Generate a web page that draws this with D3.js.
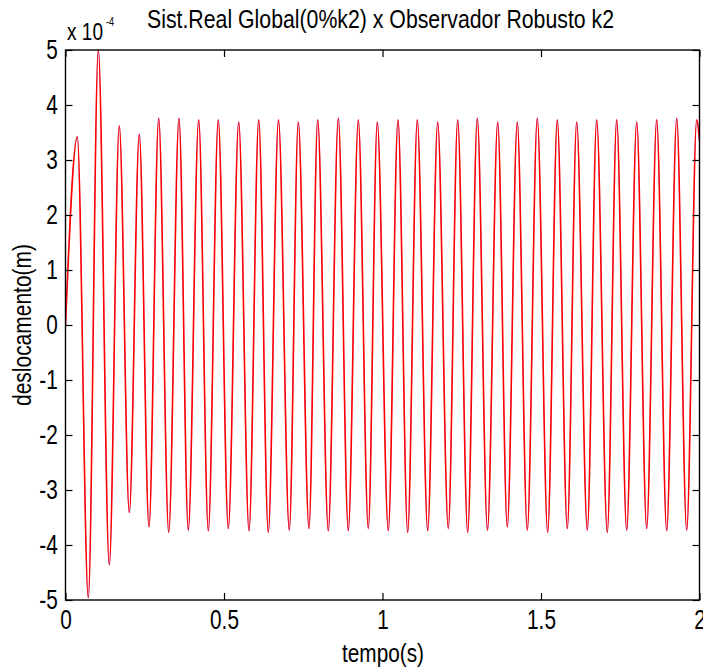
<!DOCTYPE html>
<html>
<head>
<meta charset="utf-8">
<script src="https://cdn.jsdelivr.net/npm/d3@7"></script>
<style>
  html, body { margin: 0; padding: 0; background: #ffffff; }
  svg { display: block; }
  text { font-family: "Liberation Sans", Arial, Helvetica, sans-serif; fill: #000; }
</style>
</head>
<body>
<script>
// ---- data (displacement in units of 1e-4 m) ----
const tempo = [0, 0.0372, 0.0719, 0.1035, 0.1382, 0.1697, 0.2013, 0.2328, 0.2634, 0.2940,
  0.3256, 0.3580, 0.3874, 0.4202, 0.4505, 0.4820, 0.5136, 0.5464, 0.5789, 0.6095,
  0.6397, 0.6719, 0.7060, 0.7344, 0.7681, 0.7956, 0.8290, 0.8606, 0.8921, 0.9237,
  0.9552, 0.9836, 1.0183, 1.0489, 1.0795, 1.1098, 1.1426, 1.1741, 1.2076, 1.2372,
  1.2688, 1.2991, 1.3312, 1.3634, 1.3937, 1.4252, 1.4568, 1.4883, 1.5211, 1.5514,
  1.5830, 1.6126, 1.6461, 1.6757, 1.7091, 1.7388, 1.7703, 1.8019, 1.8334, 1.8650,
  1.8965, 1.9281, 1.9596, 1.9912, 2.0];
const sistReal = [0, 3.42, -4.96, 5.00, -4.36, 3.62, -3.41, 3.47, -3.67, 3.76,
  -3.77, 3.76, -3.73, 3.73, -3.74, 3.73, -3.70, 3.69, -3.74, 3.73,
  -3.77, 3.73, -3.73, 3.69, -3.70, 3.73, -3.74, 3.76, -3.74, 3.73,
  -3.70, 3.69, -3.74, 3.73, -3.77, 3.73, -3.74, 3.69, -3.70, 3.73,
  -3.77, 3.76, -3.73, 3.69, -3.67, 3.69, -3.73, 3.76, -3.77, 3.73,
  -3.70, 3.69, -3.73, 3.73, -3.77, 3.73, -3.73, 3.69, -3.70, 3.73,
  -3.74, 3.76, -3.73, 3.73, 3.35];
const observador = [0, 3.42, -4.96, 5.00, -4.36, 3.62, -3.41, 3.47, -3.67, 3.76,
  -3.77, 3.76, -3.73, 3.73, -3.74, 3.73, -3.70, 3.69, -3.74, 3.73,
  -3.77, 3.73, -3.73, 3.69, -3.70, 3.73, -3.74, 3.76, -3.74, 3.73,
  -3.70, 3.69, -3.74, 3.73, -3.77, 3.73, -3.74, 3.69, -3.70, 3.73,
  -3.77, 3.76, -3.73, 3.69, -3.67, 3.69, -3.73, 3.76, -3.77, 3.73,
  -3.70, 3.69, -3.73, 3.73, -3.77, 3.73, -3.73, 3.69, -3.70, 3.73,
  -3.74, 3.76, -3.73, 3.73, 3.35];
const xTicks = [0, 0.5, 1, 1.5, 2];
const xTickLabels = ["0", "0.5", "1", "1.5", "2"];
const yTicks = [-5, -4, -3, -2, -1, 0, 1, 2, 3, 4, 5];
const yTickLabels = ["-5", "-4", "-3", "-2", "-1", "0", "1", "2", "3", "4", "5"];
const titleText = "Sist.Real Global(0%k2) x Observador Robusto k2";
const xLabel = "tempo(s)";
const yLabel = "deslocamento(m)";

// ---- layout ----
const W = 703, H = 669;
const L = 65.5, R = 699.5, T = 50, B = 600;
const SX = 0.77; // horizontal squeeze of the reference font

const svg = d3.select("body").append("svg").attr("width", W).attr("height", H);

const x = d3.scaleLinear().domain([0, 2]).range([L, R]);
const y = d3.scaleLinear().domain([-5, 5]).range([B, T]);

svg.append("defs").append("clipPath").attr("id", "clip")
  .append("rect").attr("x", L).attr("y", T - 1).attr("width", R - L).attr("height", B - T + 2);

const line = d3.line().curve(d3.curveMonotoneX);

svg.append("path")
  .attr("clip-path", "url(#clip)")
  .attr("d", line(tempo.map((t, i) => [x(t), y(observador[i])])))
  .attr("fill", "none").attr("stroke", "#0000ff").attr("stroke-width", 0.3);

svg.append("path")
  .attr("clip-path", "url(#clip)")
  .attr("d", line(tempo.map((t, i) => [x(t), y(sistReal[i])])))
  .attr("fill", "none").attr("stroke", "#ff0000").attr("stroke-width", 1.6);

// ---- axes ----
function styleAxis(g) {
  g.select(".domain").remove();
  g.selectAll(".tick line").attr("stroke", "#000").attr("stroke-width", 1.2);
  g.selectAll(".tick text")
    .attr("font-size", 27)
    .attr("font-family", "'Liberation Sans', Arial, sans-serif")
    .attr("fill", "#000")
    .attr("transform", `scale(${SX},1)`);
}

svg.append("g").attr("transform", `translate(0,${B})`)
  .call(d3.axisBottom(x).tickValues(xTicks).tickFormat((d, i) => xTickLabels[i])
    .tickSizeInner(-7).tickSizeOuter(0).tickPadding(10))
  .call(styleAxis);
svg.append("g").attr("transform", `translate(0,${T})`)
  .call(d3.axisTop(x).tickValues(xTicks).tickFormat("")
    .tickSizeInner(-7).tickSizeOuter(0))
  .call(styleAxis);
svg.append("g").attr("transform", `translate(${L},0)`)
  .call(d3.axisLeft(y).tickValues(yTicks).tickFormat((d, i) => yTickLabels[i])
    .tickSizeInner(-7).tickSizeOuter(0).tickPadding(10))
  .call(styleAxis);
svg.append("g").attr("transform", `translate(${R},0)`)
  .call(d3.axisRight(y).tickValues(yTicks).tickFormat("")
    .tickSizeInner(-7).tickSizeOuter(0))
  .call(styleAxis);

// frame
svg.append("rect").attr("x", L).attr("y", T).attr("width", R - L).attr("height", B - T)
  .attr("fill", "none").attr("stroke", "#000").attr("stroke-width", 1.4);

// ---- texts ----
svg.append("text").attr("x", 380.5).attr("y", 28)
  .attr("text-anchor", "middle").attr("font-size", 25)
  .attr("textLength", 467).attr("lengthAdjust", "spacingAndGlyphs")
  .text(titleText);

svg.append("text").attr("x", 67).attr("y", 40)
  .attr("font-size", 23).attr("textLength", 36).attr("lengthAdjust", "spacingAndGlyphs")
  .text("x 10");
svg.append("text").attr("x", 106).attr("y", 26)
  .attr("font-size", 13).attr("textLength", 8).attr("lengthAdjust", "spacingAndGlyphs")
  .text("-4");

svg.append("text").attr("x", 383).attr("y", 662)
  .attr("text-anchor", "middle").attr("font-size", 25)
  .attr("textLength", 82).attr("lengthAdjust", "spacingAndGlyphs")
  .text(xLabel);

svg.append("text").attr("transform", "translate(31,325) rotate(-90)")
  .attr("text-anchor", "middle").attr("font-size", 25)
  .attr("textLength", 162).attr("lengthAdjust", "spacingAndGlyphs")
  .text(yLabel);
</script>
</body>
</html>
